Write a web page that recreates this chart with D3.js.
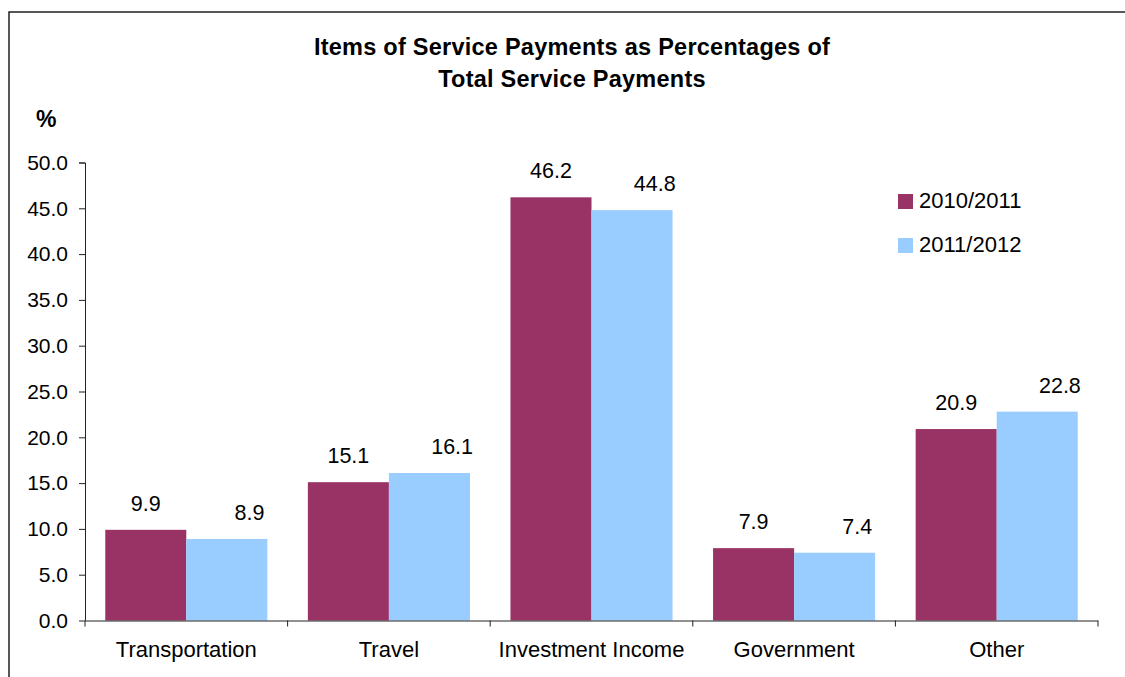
<!DOCTYPE html>
<html>
<head>
<meta charset="utf-8">
<script src="https://cdn.jsdelivr.net/npm/d3@7"></script>
<style>
  html, body { margin: 0; padding: 0; background: #fff; }
  svg { display: block; font-family: "Liberation Sans", Arial, sans-serif; }
</style>
</head>
<body>
<svg id="chart" width="1125" height="677"></svg>
<script>
// Service payment items and their shares (%) for the two fiscal years
const categories = ["Transportation", "Travel", "Investment Income", "Government", "Other"];
const seriesNames = ["2010/2011", "2011/2012"];
const values2010 = [9.9, 15.1, 46.2, 7.9, 20.9];
const values2011 = [8.9, 16.1, 44.8, 7.4, 22.8];
const yTicks = [0, 5, 10, 15, 20, 25, 30, 35, 40, 45, 50];
const seriesColors = ["#993366", "#99CCFF"];

const seriesValues = [values2010, values2011];

const svg = d3.select("#chart");

// outer frame (only the left and top edges fall inside the view)
svg.append("rect")
  .attr("x", 9).attr("y", 12)
  .attr("width", 1140).attr("height", 700)
  .attr("fill", "none").attr("stroke", "#111").attr("stroke-width", 1.4);

const plot = { left: 85, right: 1098, top: 162.5, bottom: 620.5 };

const x0 = d3.scaleBand().domain(categories).range([plot.left, plot.right]).padding(0);
const x1 = d3.scaleBand().domain(seriesNames).range([0, x0.bandwidth()]).paddingInner(0).paddingOuter(0.25);
const y = d3.scaleLinear().domain([0, 50]).range([plot.bottom, plot.top]);

// title
const title = svg.append("text")
  .attr("x", 572).attr("text-anchor", "middle")
  .attr("font-size", 23.5).attr("font-weight", "bold")
  .attr("letter-spacing", 0.25).attr("fill", "#000");
title.append("tspan").attr("x", 572).attr("y", 54.5).text("Items of Service Payments as Percentages of");
title.append("tspan").attr("x", 572).attr("y", 86.5).text("Total Service Payments");

// unit label
svg.append("text")
  .attr("x", 36).attr("y", 127)
  .attr("font-size", 23).attr("font-weight", "bold")
  .text("%");

// bars
const groups = svg.append("g").selectAll("g")
  .data(categories)
  .join("g")
  .attr("transform", d => `translate(${x0(d)},0)`);

groups.selectAll("rect")
  .data((c, i) => seriesNames.map((s, k) => ({ s, k, v: seriesValues[k][i] })))
  .join("rect")
  .attr("x", d => x1(d.s))
  .attr("y", d => y(d.v))
  .attr("width", x1.bandwidth())
  .attr("height", d => y(0) - y(d.v))
  .attr("fill", d => seriesColors[d.k]);

// value labels above bars (second series sits a little to the right)
const labelShift = [0, 0.28];
groups.selectAll("text.val")
  .data((c, i) => seriesNames.map((s, k) => ({ s, k, v: seriesValues[k][i] })))
  .join("text")
  .attr("class", "val")
  .attr("x", d => x1(d.s) + x1.bandwidth() * (0.5 + labelShift[d.k]))
  .attr("y", d => y(d.v) - 19)
  .attr("text-anchor", "middle")
  .attr("font-size", 21.5)
  .attr("fill", "#000")
  .text(d => d3.format(".1f")(d.v));

// y axis
const yAxis = svg.append("g")
  .attr("transform", `translate(${plot.left},0)`)
  .call(d3.axisLeft(y).tickValues(yTicks).tickFormat(d3.format(".1f")).tickSize(6).tickPadding(11));
yAxis.select(".domain").attr("stroke", "#222").attr("d", `M-6,${plot.top + 0.5}H0.5V${plot.bottom}`);
yAxis.selectAll(".tick line").attr("stroke", "#222");
yAxis.selectAll(".tick text")
  .attr("font-size", 21).attr("fill", "#000")
  .attr("font-family", "'Liberation Sans', Arial, sans-serif");

// x axis: labels at band centres, tick marks at band boundaries
const xAxis = svg.append("g")
  .attr("transform", `translate(0,${plot.bottom})`)
  .call(d3.axisBottom(x0).tickSize(0).tickPadding(36));
xAxis.select(".domain").attr("stroke", "#222").attr("d", `M${plot.left},0.5H${plot.right}`);
xAxis.selectAll(".tick text")
  .attr("font-size", 22).attr("fill", "#000")
  .attr("font-family", "'Liberation Sans', Arial, sans-serif")
  .attr("dy", 0);
const bounds = categories.map(c => x0(c)).concat([plot.right]);
xAxis.selectAll("line.bound")
  .data(bounds)
  .join("line")
  .attr("class", "bound")
  .attr("x1", d => d).attr("x2", d => d)
  .attr("y1", 0).attr("y2", 6)
  .attr("stroke", "#222");

// legend
const legend = svg.append("g").selectAll("g")
  .data(seriesNames)
  .join("g")
  .attr("transform", (d, i) => `translate(898,${194 + i * 44})`);
legend.append("rect")
  .attr("width", 15).attr("height", 15)
  .attr("fill", (d, i) => seriesColors[i]);
legend.append("text")
  .attr("x", 21).attr("y", 14)
  .attr("font-size", 22).attr("fill", "#000")
  .text(d => d);
</script>
</body>
</html>
